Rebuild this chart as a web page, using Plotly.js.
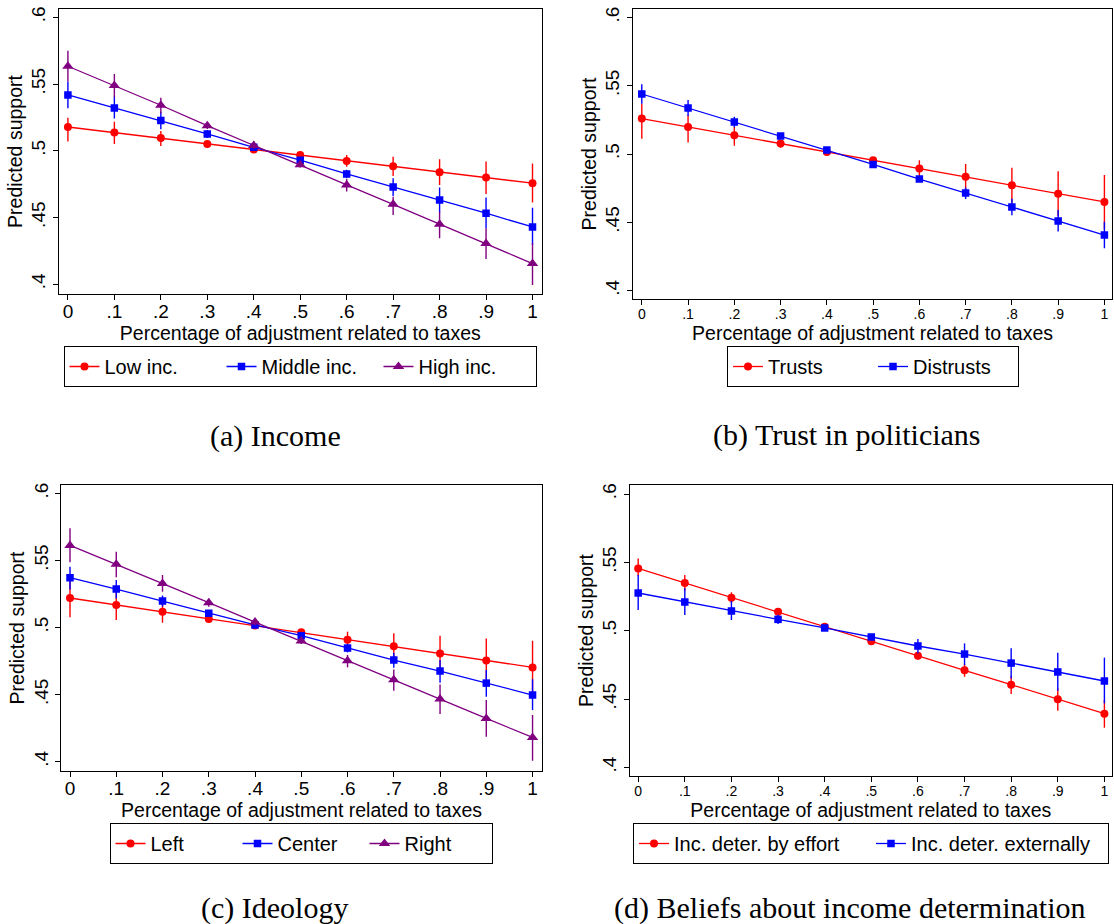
<!DOCTYPE html>
<html>
<head>
<meta charset="utf-8">
<script src="https://cdn.plot.ly/plotly-3.0.1.min.js"></script>
<style>
  html, body { margin: 0; padding: 0; background: #ffffff; }
  #chart { width: 1114px; height: 924px; }
</style>
</head>
<body>
<div id="chart"></div>
<script>
// ---------- Data ----------
const taxShare = [0, 0.1, 0.2, 0.3, 0.4, 0.5, 0.6, 0.7, 0.8, 0.9, 1];
const xTickText = ['0', '.1', '.2', '.3', '.4', '.5', '.6', '.7', '.8', '.9', '1'];
const yTickVals = [0.4, 0.45, 0.5, 0.55, 0.6];
const yTickText = ['.4', '.45', '.5', '.55', '.6'];

// (a) Income
const lowInc     = [.5178, .5136, .5096, .5051, .5009, .4969, .4924, .4884, .4839, .4799, .4757];
const lowIncLo   = [.5069, .5051, .5036, .5026, .4996, .4954, .4881, .4811, .4744, .4677, .4612];
const lowIncHi   = [.5248, .5218, .5148, .5076, .5021, .4989, .4969, .4956, .4936, .4919, .4904];
const midInc     = [.5418, .5321, .5226, .5126, .5026, .4929, .4826, .4729, .4632, .4532, .4429];
const midIncLo   = [.5318, .5241, .5161, .5096, .5006, .4907, .4794, .4662, .4537, .4419, .4295];
const midIncHi   = [.5518, .5406, .5293, .5156, .5046, .4952, .4858, .4794, .4724, .4649, .4574];
const highInc    = [.5633, .5488, .5341, .5188, .5039, .4896, .4744, .4599, .4449, .4305, .4155];
const highIncLo  = [.5518, .5401, .5281, .5163, .5014, .4874, .4694, .4519, .4344, .4190, .3995];
const highIncHi  = [.5750, .5575, .5398, .5213, .5069, .4919, .4789, .4656, .4544, .4419, .4307];

// (b) Trust in politicians
const trusts      = [.5259, .5198, .5137, .5076, .5015, .4954, .4893, .4834, .4771, .4710, .4649];
const trustsLo    = [.5112, .5085, .5061, .5046, .4998, .4937, .4834, .4741, .4644, .4546, .4449];
const trustsHi    = [.5368, .5285, .5200, .5105, .5032, .4971, .4954, .4927, .4900, .4873, .4846];
const distrusts   = [.5439, .5337, .5234, .5132, .5029, .4924, .4817, .4715, .4612, .4510, .4407];
const distrustsLo = [.5368, .5278, .5195, .5110, .5012, .4905, .4795, .4671, .4551, .4432, .4310];
const distrustsHi = [.5510, .5395, .5273, .5154, .5046, .4943, .4839, .4754, .4673, .4590, .4505];

// (c) Ideology
const leftIdeo    = [.5220, .5168, .5118, .5063, .5016, .4964, .4909, .4860, .4807, .4755, .4703];
const leftIdeoLo  = [.5076, .5056, .5036, .5038, .5001, .4949, .4857, .4758, .4671, .4584, .4497];
const leftIdeoHi  = [.5366, .5280, .5188, .5088, .5031, .4979, .4969, .4957, .4939, .4919, .4902];
const centerIdeo  = [.5371, .5287, .5197, .5106, .5019, .4939, .4847, .4758, .4676, .4586, .4497];
const centerIdeoLo= [.5284, .5217, .5155, .5081, .5001, .4921, .4815, .4701, .4589, .4484, .4385];
const centerIdeoHi= [.5453, .5354, .5239, .5131, .5037, .4957, .4879, .4812, .4758, .4683, .4614];
const rightIdeo   = [.5612, .5471, .5329, .5185, .5041, .4899, .4753, .4611, .4467, .4323, .4181];
const rightIdeoLo = [.5486, .5374, .5267, .5155, .5016, .4877, .4703, .4529, .4355, .4186, .4007];
const rightIdeoHi = [.5739, .5565, .5391, .5215, .5066, .4921, .4796, .4688, .4576, .4460, .4348];

// (d) Beliefs about income determination
const effort      = [.5456, .5349, .5241, .5139, .5029, .4922, .4817, .4710, .4605, .4498, .4393];
const effortLo    = [.5400, .5293, .5200, .5117, .5012, .4903, .4790, .4663, .4537, .4415, .4290];
const effortHi    = [.5529, .5407, .5281, .5161, .5046, .4941, .4844, .4756, .4668, .4578, .4493];
const external    = [.5276, .5210, .5144, .5083, .5020, .4954, .4888, .4829, .4763, .4698, .4632];
const externalLo  = [.5151, .5115, .5078, .5049, .5003, .4937, .4834, .4749, .4651, .4561, .4468];
const externalHi  = [.5407, .5310, .5217, .5117, .5037, .4971, .4939, .4907, .4871, .4839, .4803];

const captions = ['(a) Income', '(b) Trust in politicians', '(c) Ideology', '(d) Beliefs about income determination'];

// ---------- Styles ----------
const RED = '#ff0000', BLUE = '#0000ff', PURPLE = '#800080';
const SANS = 'Liberation Sans, Arial, sans-serif';
const SERIF = 'Liberation Serif, Times New Roman, serif';

function series(name, est, lo, hi, color, symbol, size, axisIdx) {
  const sfx = axisIdx === 1 ? '' : String(axisIdx);
  return {
    type: 'scatter', mode: 'lines+markers', name: name,
    x: taxShare, y: est,
    xaxis: 'x' + sfx, yaxis: 'y' + sfx,
    legend: 'legend' + sfx,
    line: { color: color, width: 1.3 },
    marker: { color: color, symbol: symbol, size: size },
    error_y: {
      type: 'data', symmetric: false,
      array: hi.map((h, i) => h - est[i]),
      arrayminus: lo.map((l, i) => est[i] - l),
      color: color, thickness: 1.4, width: 0
    }
  };
}

const data = [
  series('Low inc.', lowInc, lowIncLo, lowIncHi, RED, 'circle', 8, 1),
  series('Middle inc.', midInc, midIncLo, midIncHi, BLUE, 'square', 7.5, 1),
  series('High inc.', highInc, highIncLo, highIncHi, PURPLE, 'triangle-up', 10, 1),
  series('Trusts', trusts, trustsLo, trustsHi, RED, 'circle', 8, 2),
  series('Distrusts', distrusts, distrustsLo, distrustsHi, BLUE, 'square', 7.5, 2),
  series('Left', leftIdeo, leftIdeoLo, leftIdeoHi, RED, 'circle', 8, 3),
  series('Center', centerIdeo, centerIdeoLo, centerIdeoHi, BLUE, 'square', 7.5, 3),
  series('Right', rightIdeo, rightIdeoLo, rightIdeoHi, PURPLE, 'triangle-up', 10, 3),
  series('Inc. deter. by effort', effort, effortLo, effortHi, RED, 'circle', 8, 4),
  series('Inc. deter. externally', external, externalLo, externalHi, BLUE, 'square', 7.5, 4)
];

// panel geometry in pixels (W=1114, H=924)
const W = 1114, H = 924;
const panels = [
  { px: [58.9, 541.8], py: [9, 294],       xr: [-0.0194, 1.0200], yr: [0.3927, 0.6062], xfs: 19, xls: -5, leg: [300, 346], ew: 112, cap: [275, 436] },
  { px: [633.2, 1112], py: [9, 299],       xr: [-0.0186, 1.0164], yr: [0.3939, 0.6061], xfs: 14, xls: -3, leg: [873, 346], ew: 100, cap: [847, 435] },
  { px: [61.4, 541.8], py: [485, 771],     xr: [-0.0186, 1.0200], yr: [0.3931, 0.6062], xfs: 19, xls: -5, leg: [301, 823], ew: 82,  cap: [274, 908] },
  { px: [629.7, 1112], py: [485.3, 775.7], xr: [-0.0182, 1.0163], yr: [0.3939, 0.6064], xfs: 14, xls: -3, leg: [871, 823], ew: 192, cap: [850, 908] }
];

const layout = {
  width: W, height: H,
  margin: { l: 0, r: 0, t: 0, b: 0 },
  paper_bgcolor: '#ffffff', plot_bgcolor: '#ffffff',
  font: { family: SANS, color: '#000000' },
  annotations: []
};

panels.forEach((p, i) => {
  const sfx = i === 0 ? '' : String(i + 1);
  layout['xaxis' + sfx] = {
    domain: [p.px[0] / W, p.px[1] / W],
    range: p.xr, anchor: 'y' + sfx,
    tickmode: 'array', tickvals: taxShare, ticktext: xTickText,
    ticks: 'outside', ticklen: 5, tickwidth: 1, tickcolor: '#000',
    ticklabelstandoff: p.xls,
    tickfont: { family: SANS, size: p.xfs, color: '#000' },
    showline: true, mirror: true, linecolor: '#000', linewidth: 1.2,
    showgrid: false, zeroline: false, automargin: false,
    title: { text: 'Percentage of adjustment related to taxes', font: { family: SANS, size: 19.5, color: '#000' }, standoff: 0 }
  };
  layout['yaxis' + sfx] = {
    domain: [1 - p.py[1] / H, 1 - p.py[0] / H],
    range: p.yr, anchor: 'x' + sfx,
    tickmode: 'array', tickvals: yTickVals, ticktext: yTickText,
    tickangle: -90,
    ticks: 'outside', ticklen: 5, tickwidth: 1, tickcolor: '#000',
    tickfont: { family: SANS, size: 19, color: '#000' },
    showline: true, mirror: true, linecolor: '#000', linewidth: 1.2,
    showgrid: false, zeroline: false, automargin: false,
    title: { text: 'Predicted support', font: { family: SANS, size: 19.5, color: '#000' }, standoff: 0 }
  };
  layout['legend' + sfx] = {
    orientation: 'h',
    x: p.leg[0] / W, xanchor: 'center',
    y: 1 - p.leg[1] / H, yanchor: 'top',
    entrywidth: p.ew, entrywidthmode: 'pixels',
    bordercolor: '#000', borderwidth: 1, bgcolor: '#ffffff',
    font: { family: SANS, size: 20, color: '#000' },
    itemclick: false, itemdoubleclick: false
  };
  layout.annotations.push({
    xref: 'paper', yref: 'paper',
    x: p.cap[0] / W, y: 1 - p.cap[1] / H,
    xanchor: 'center', yanchor: 'middle',
    text: captions[i], showarrow: false,
    font: { family: SERIF, size: 30, color: '#000' }
  });
});

Plotly.newPlot('chart', data, layout, { displayModeBar: false, staticPlot: true });
</script>
</body>
</html>
